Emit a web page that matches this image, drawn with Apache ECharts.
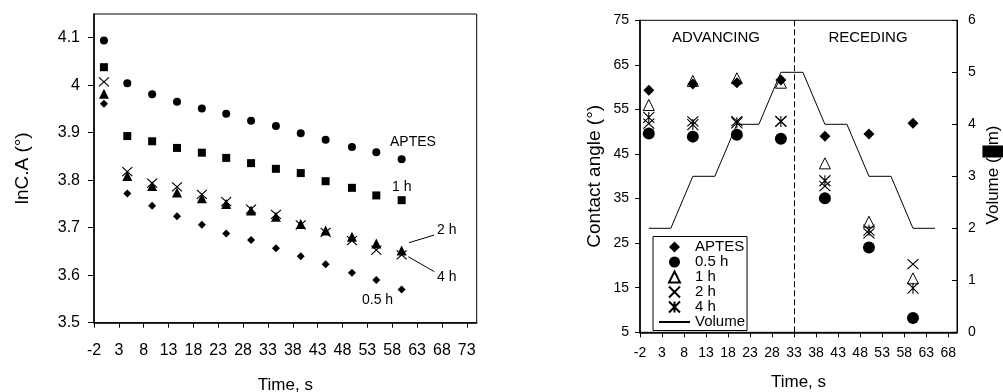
<!DOCTYPE html>
<html>
<head>
<meta charset="utf-8">
<script src="https://cdn.jsdelivr.net/npm/echarts@6/dist/echarts.min.js"></script>
<style>
html,body{margin:0;padding:0;background:#fff;}
#c{width:1003px;height:392px;}
</style>
</head>
<body>
<div id="c"></div>
<script>
// ---------- Left chart data (lnC.A vs time) ----------
const timesLeft = [0, 4.7, 9.7, 14.7, 19.7, 24.6, 29.6, 34.6, 39.6, 44.6, 49.9, 54.8, 59.9];
const lnAptes = [4.094, 4.004, 3.981, 3.965, 3.951, 3.940, 3.925, 3.914, 3.899, 3.885, 3.870, 3.859, 3.844];
const ln1h    = [4.038, 3.893, 3.882, 3.868, 3.858, 3.847, 3.836, 3.824, 3.815, 3.798, 3.784, 3.768, 3.758];
const ln05h   = [3.961, 3.772, 3.746, 3.724, 3.706, 3.688, 3.674, 3.657, 3.640, 3.623, 3.605, 3.590, 3.570];
const ln2h    = [3.982, 3.809, 3.788, 3.774, 3.762, 3.750, 3.736, 3.723, 3.708, 3.694, 3.681, 3.667, 3.652];
const ln4h    = [4.007, 3.818, 3.794, 3.786, 3.770, 3.755, 3.739, 3.728, 3.706, 3.690, 3.673, 3.653, 3.643];
const xTicksLeft = [-2, 3, 8, 13, 18, 23, 28, 33, 38, 43, 48, 53, 58, 63, 68, 73];
const yTicksLeft = [3.5, 3.6, 3.7, 3.8, 3.9, 4, 4.1];

// ---------- Right chart data (contact angle & volume vs time) ----------
const timesRight = [0, 10, 20, 30, 40, 50, 60];
const caAptes = [59.3, 60.7, 61.0, 61.6, 49.0, 49.5, 51.9];
const ca05h   = [49.6, 48.9, 49.3, 48.4, 35.1, 24.0, 8.2];
const ca1h    = [56.0, 61.4, 62.0, 61.0, 42.9, 29.8, 17.1];
const ca2h    = [51.8, 52.3, 52.4, 52.3, 37.8, 27.2, 20.3];
const ca4h    = [53.2, 51.6, 52.0, 52.3, 39.0, 27.9, 14.9];
const volTimes = [0, 5, 10, 15, 20, 25, 30, 35, 40, 45, 50, 55, 60, 65];
const volume   = [2, 2, 3, 3, 4, 4, 5, 5, 4, 4, 3, 3, 2, 2];
const phaseBoundary = 33;
const xTicksRight = [-2, 3, 8, 13, 18, 23, 28, 33, 38, 43, 48, 53, 58, 63, 68];
const yTicksCA = [5, 15, 25, 35, 45, 55, 65, 75];
const yTicksVol = [0, 1, 2, 3, 4, 5, 6];

const FONT = 'Liberation Sans, Arial, sans-serif';
const zip = (xs, ys) => xs.map((x, i) => [x, ys[i]]);
const X_PATH = 'path://M0,0L10,10M10,0L0,10';
const AST_PATH = 'path://M5,0L5,10M0,0L10,10M10,0L0,10';
const DIAMOND_PATH = 'path://M5,0L10,5L5,10L0,5Z';
const TRIANGLE_PATH = 'path://M5,0L10,10L0,10Z';

function scatter(name, xi, yi, data, symbol, size, style) {
  return {
    type: 'scatter', name: name, xAxisIndex: xi, yAxisIndex: yi,
    data: data, symbol: symbol, symbolSize: size, symbolKeepAspect: true,
    itemStyle: Object.assign({ color: '#000', opacity: 1 }, style || {}),
    emphasis: { disabled: true }, silent: true
  };
}
const hollow = { color: '#fff', borderColor: '#000', borderWidth: 1 };
const strokeOnly = { color: 'rgba(0,0,0,0)', borderColor: '#000', borderWidth: 1.1 };

const axisCommon = {
  axisLine: { show: true, onZero: false, lineStyle: { color: '#000', width: 1.6 } },
  splitLine: { show: false },
  nameTextStyle: { color: '#000', fontFamily: FONT }
};

const option = {
  animation: false,
  textStyle: { fontFamily: FONT, color: '#000' },
  grid: [
    { left: 94, top: 14, width: 382.7, height: 308.7, show: true, borderColor: '#000', borderWidth: 1, backgroundColor: 'transparent', containLabel: false, outerBoundsMode: 'none' },
    { left: 640, top: 20.3, width: 317, height: 312, show: true, borderColor: '#000', borderWidth: 1, backgroundColor: 'transparent', containLabel: false, outerBoundsMode: 'none' }
  ],
  xAxis: [
    Object.assign({}, axisCommon, {
      type: 'value', gridIndex: 0, min: -2, max: 75,
      axisTick: { show: true, length: 5, customValues: xTicksLeft, lineStyle: { color: '#000' } },
      axisLabel: { customValues: xTicksLeft, fontSize: 16, color: '#000', margin: 20, fontFamily: FONT },
      name: 'Time, s', nameLocation: 'middle', nameGap: 54,
      nameTextStyle: { fontSize: 17, color: '#000', fontFamily: FONT }
    }),
    Object.assign({}, axisCommon, {
      type: 'value', gridIndex: 1, min: -2, max: 70,
      axisTick: { show: true, length: 5, customValues: xTicksRight, lineStyle: { color: '#000' } },
      axisLabel: { customValues: xTicksRight, fontSize: 14, color: '#000', margin: 14, fontFamily: FONT },
      name: 'Time, s', nameLocation: 'middle', nameGap: 42,
      nameTextStyle: { fontSize: 17, color: '#000', fontFamily: FONT }
    })
  ],
  yAxis: [
    Object.assign({}, axisCommon, {
      type: 'value', gridIndex: 0, min: 3.5, max: 4.15,
      axisTick: { show: true, length: 6, customValues: yTicksLeft, lineStyle: { color: '#000' } },
      axisLabel: { customValues: yTicksLeft, fontSize: 16, color: '#000', margin: 14, fontFamily: FONT },
      name: 'lnC.A (°)', nameLocation: 'middle', nameGap: 62,
      nameTextStyle: { fontSize: 19, color: '#000', fontFamily: FONT }
    }),
    Object.assign({}, axisCommon, {
      type: 'value', gridIndex: 1, min: 5, max: 75, position: 'left',
      axisTick: { show: true, length: 5, customValues: yTicksCA, lineStyle: { color: '#000' } },
      axisLabel: { customValues: yTicksCA, fontSize: 14, color: '#000', margin: 11, fontFamily: FONT },
      name: 'Contact angle (°)', nameLocation: 'middle', nameGap: 36,
      nameTextStyle: { fontSize: 19, color: '#000', fontFamily: FONT }
    }),
    Object.assign({}, axisCommon, {
      type: 'value', gridIndex: 1, min: 0, max: 6, interval: 1, position: 'right',
      axisLine: { show: true, onZero: false, lineStyle: { color: '#000', width: 1 } },
      axisTick: { show: true, inside: true, length: 5, customValues: yTicksVol, lineStyle: { color: '#000' } },
      axisLabel: { customValues: yTicksVol, fontSize: 14, color: '#000', margin: 11, fontFamily: FONT }
    })
  ],
  legend: {
    orient: 'vertical', left: 653, top: 236.5,
    itemWidth: 31, itemHeight: 11, itemGap: 0,
    padding: [3, 2, 1, 5],
    symbolKeepAspect: true,
    borderColor: '#000', borderWidth: 1, backgroundColor: '#fff',
    selectedMode: false,
    textStyle: { fontSize: 15, lineHeight: 14, color: '#000', fontFamily: FONT },
    data: ['APTES', '0.5 h', '1 h', '2 h', '4 h',
      { name: 'Volume', itemStyle: { color: 'rgba(0,0,0,0)', borderColor: 'rgba(0,0,0,0)', borderWidth: 0, opacity: 0 } }]
  },
  series: [
    // left chart
    scatter('L 2 h', 0, 0, zip(timesLeft, ln2h), TRIANGLE_PATH, 10),
    scatter('L 4 h', 0, 0, zip(timesLeft, ln4h), X_PATH, [10, 9], strokeOnly),
    scatter('L APTES', 0, 0, zip(timesLeft, lnAptes), 'circle', 8),
    scatter('L 1 h', 0, 0, zip(timesLeft, ln1h), 'rect', 8),
    scatter('L 0.5 h', 0, 0, zip(timesLeft, ln05h), DIAMOND_PATH, 8),
    // right chart
    scatter('1 h', 1, 1, zip(timesRight, ca1h), TRIANGLE_PATH, 11, hollow),
    scatter('2 h', 1, 1, zip(timesRight, ca2h), X_PATH, [11, 10], strokeOnly),
    scatter('4 h', 1, 1, zip(timesRight, ca4h), AST_PATH, [11, 11], strokeOnly),
    scatter('APTES', 1, 1, zip(timesRight, caAptes), DIAMOND_PATH, 11),
    scatter('0.5 h', 1, 1, zip(timesRight, ca05h), 'circle', 12),
    {
      type: 'line', name: 'Volume', xAxisIndex: 1, yAxisIndex: 2,
      data: zip(volTimes, volume), symbol: 'none', showSymbol: false, silent: true,
      lineStyle: { color: '#000', width: 1 }, itemStyle: { color: '#000' },
      emphasis: { disabled: true },
      markLine: {
        silent: true, symbol: 'none', label: { show: false },
        lineStyle: { color: '#000', width: 1, type: [6, 3] },
        data: [{ xAxis: phaseBoundary }]
      }
    }
  ],
  graphic: [
    { type: 'text', x: 716, y: 37.5, style: { text: 'ADVANCING', font: '15px ' + FONT, fill: '#000', align: 'center', verticalAlign: 'middle' } },
    { type: 'text', x: 868, y: 37.5, style: { text: 'RECEDING', font: '15px ' + FONT, fill: '#000', align: 'center', verticalAlign: 'middle' } },
    { type: 'text', x: 993, y: 175, rotation: Math.PI / 2, style: { text: 'Volume (█m)', font: '17px ' + FONT, fill: '#000', align: 'center', verticalAlign: 'middle' } },
    { type: 'text', x: 390, y: 142, style: { text: 'APTES', font: '14px ' + FONT, fill: '#000', align: 'left', verticalAlign: 'middle' } },
    { type: 'text', x: 392, y: 187, style: { text: '1 h', font: '14px ' + FONT, fill: '#000', align: 'left', verticalAlign: 'middle' } },
    { type: 'text', x: 437, y: 230, style: { text: '2 h', font: '14px ' + FONT, fill: '#000', align: 'left', verticalAlign: 'middle' } },
    { type: 'text', x: 437, y: 277, style: { text: '4 h', font: '14px ' + FONT, fill: '#000', align: 'left', verticalAlign: 'middle' } },
    { type: 'text', x: 362, y: 300, style: { text: '0.5 h', font: '14px ' + FONT, fill: '#000', align: 'left', verticalAlign: 'middle' } },
    { type: 'line', shape: { x1: 409, y1: 242.7, x2: 434.3, y2: 235 }, style: { stroke: '#000', lineWidth: 1 } },
    { type: 'line', shape: { x1: 408.3, y1: 256.7, x2: 434.3, y2: 271.7 }, style: { stroke: '#000', lineWidth: 1 } }
  ]
};

const chart = echarts.init(document.getElementById('c'), null, { renderer: 'canvas' });
chart.setOption(option);
</script>
</body>
</html>
